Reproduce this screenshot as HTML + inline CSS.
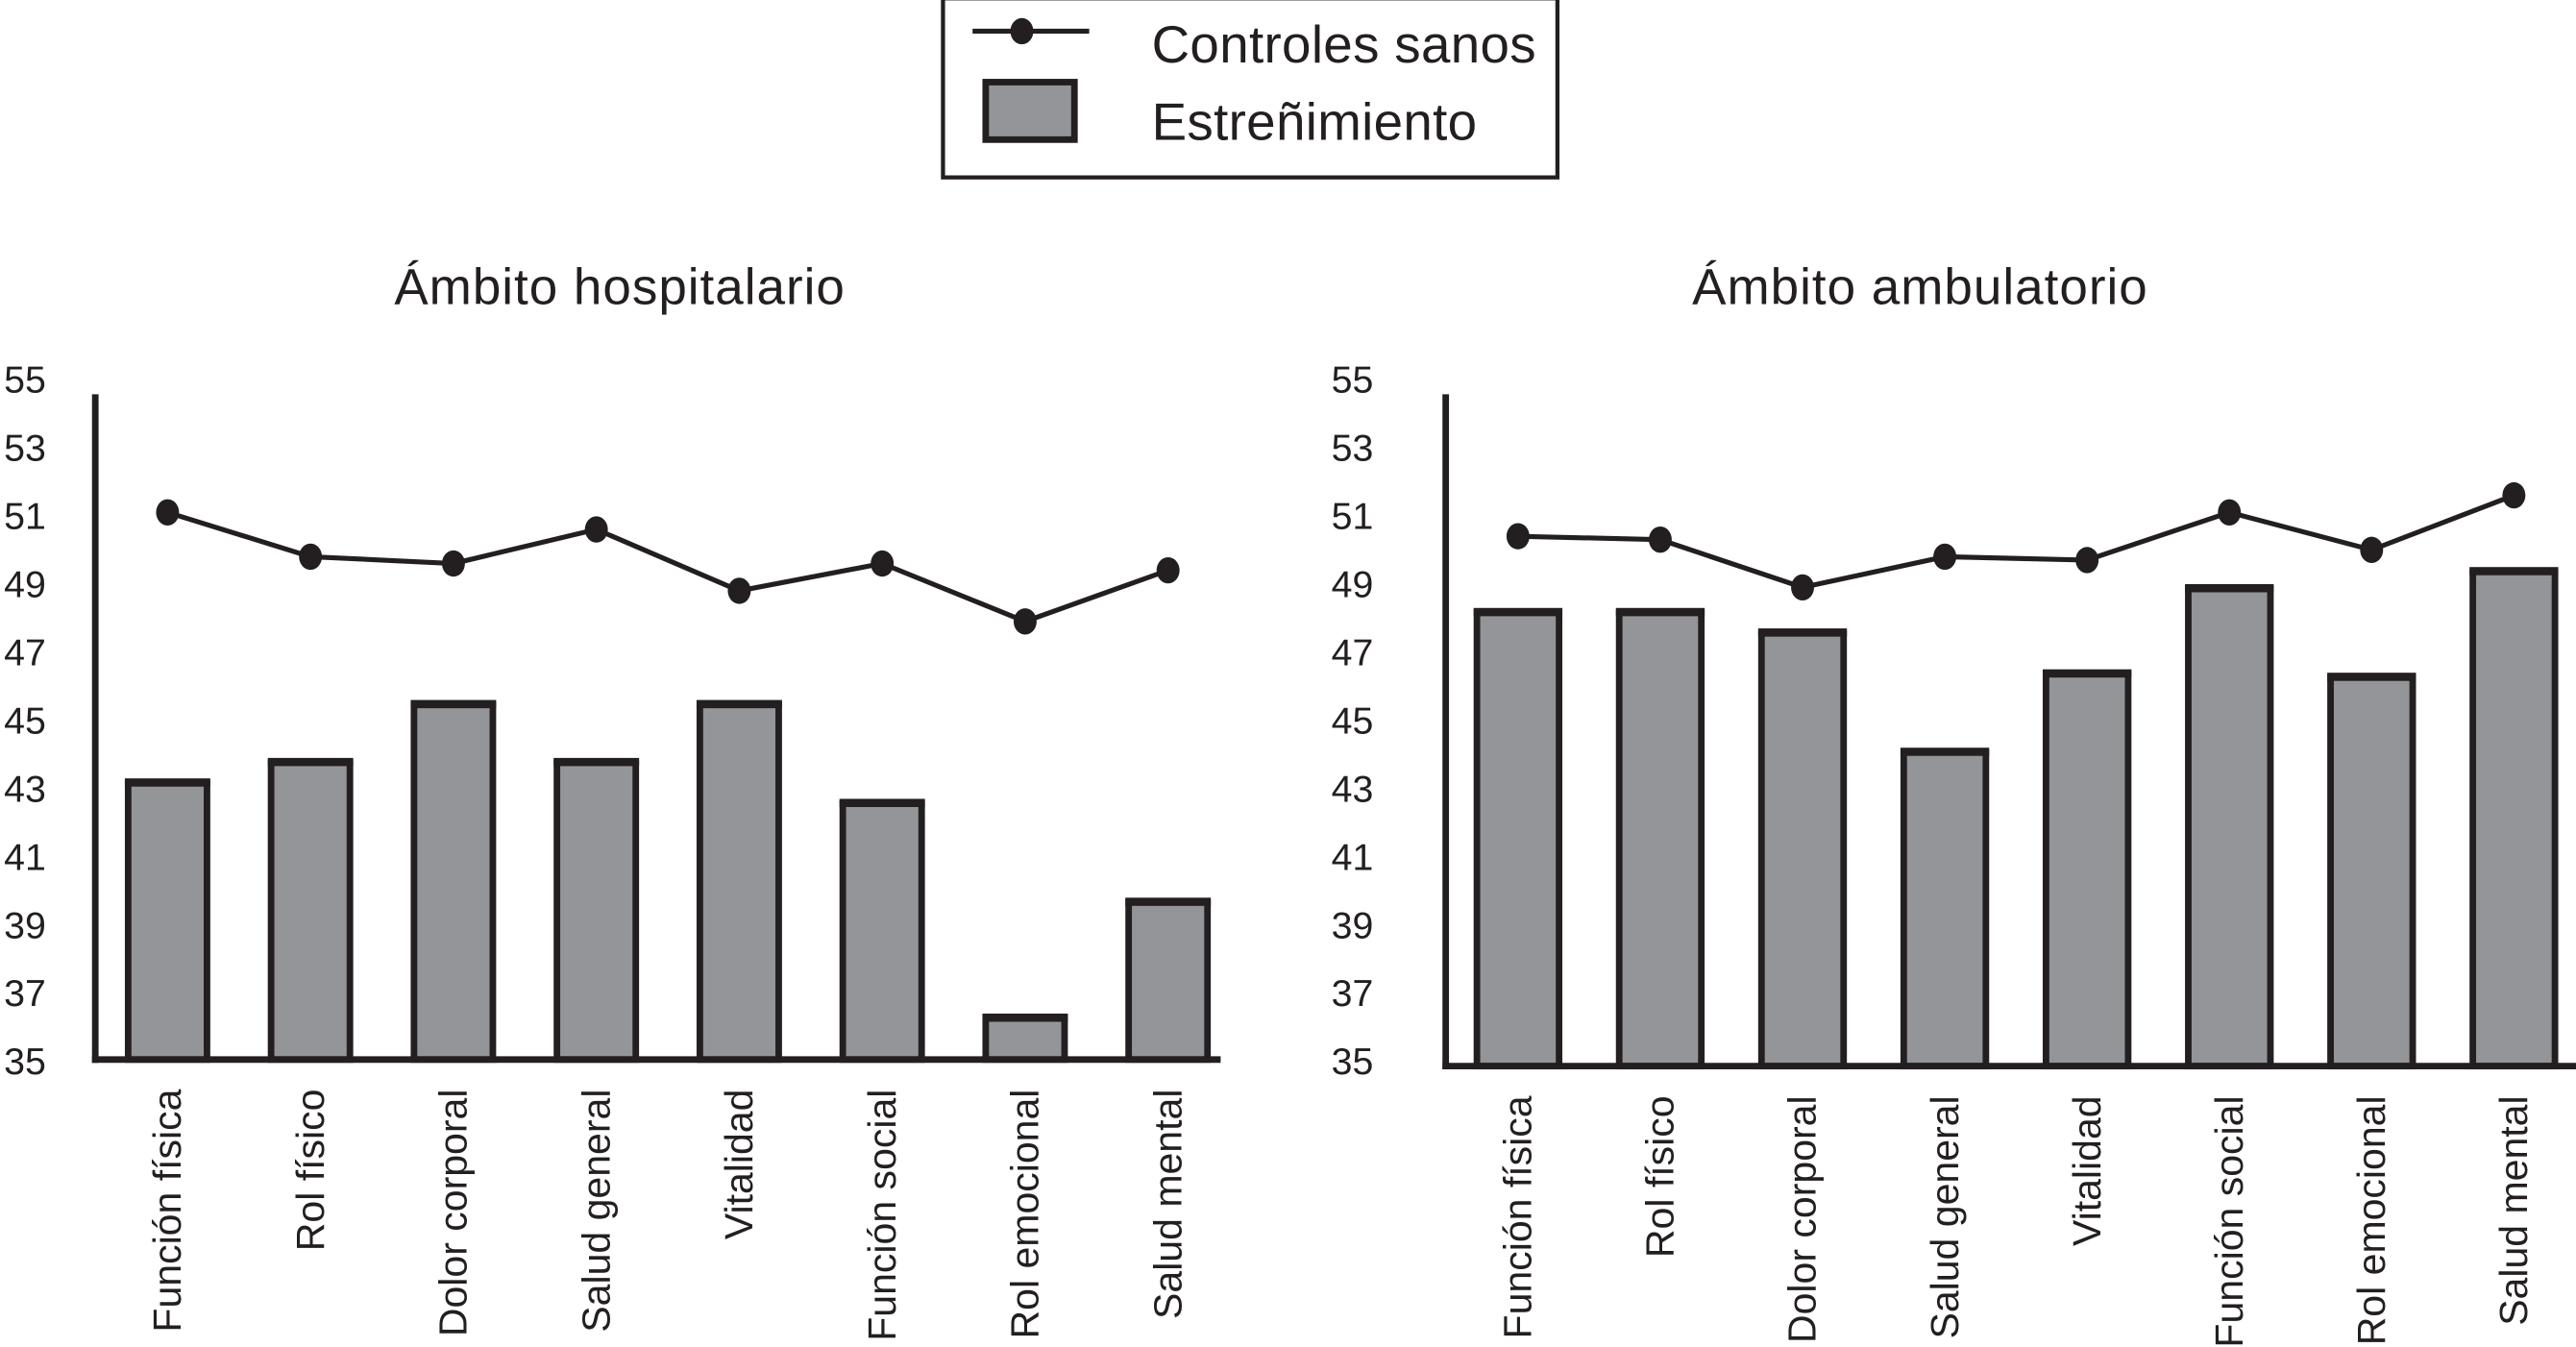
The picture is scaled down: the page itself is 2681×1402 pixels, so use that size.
<!DOCTYPE html>
<html><head><meta charset="utf-8"><style>
html,body{margin:0;padding:0;background:#fff;}
svg{display:block;}
text{font-family:"Liberation Sans",sans-serif;fill:#231f20;}
</style></head><body>
<svg id="chart" width="2681" height="1402" viewBox="0 0 1568 820" preserveAspectRatio="none" xmlns="http://www.w3.org/2000/svg">
<g>
<rect x="574" y="-1" width="374" height="109" fill="#fff" stroke="#231f20" stroke-width="2.5"/>
<line x1="592" y1="19" x2="663" y2="19" stroke="#231f20" stroke-width="3"/>
<ellipse cx="622" cy="19" rx="7" ry="8" fill="#231f20"/>
<text x="701" y="38" font-size="32" textLength="234">Controles sanos</text>
<rect x="600" y="50" width="54" height="35" fill="#939598" stroke="#231f20" stroke-width="4"/>
<text x="701" y="85" font-size="32" textLength="198">Estreñimiento</text>
</g>
<text x="240" y="185" font-size="31" textLength="274">Ámbito hospitalario</text>
<text x="1030" y="185" font-size="31" textLength="277">Ámbito ambulatorio</text>
<g id="panels"></g>
</svg>
<script>
const categories = ["Función física","Rol físico","Dolor corporal","Salud general","Vitalidad","Función social","Rol emocional","Salud mental"];
const yTicks = [35,37,39,41,43,45,47,49,51,53,55];
const hospBars = [43.2,43.8,45.5,43.8,45.5,42.6,36.3,39.7];
const hospLine = [51.1,49.8,49.6,50.6,48.8,49.6,47.9,49.4];
const ambBars = [48.2,48.2,47.6,44.1,46.4,48.9,46.3,49.4];
const ambLine = [50.4,50.3,48.9,49.8,49.7,51.1,50.0,51.6];

const NS = "http://www.w3.org/2000/svg";
const root = document.getElementById('panels');
function mk(tag, attrs, parent){const e=document.createElementNS(NS,tag);for(const k in attrs)e.setAttribute(k,attrs[k]);parent.appendChild(e);return e;}
function y(v){return 646-(v-35)*20.75;}

function panel(name, axisX, labelX, firstX, step, barW, baseY, endX, bars, line){
  const g = mk('g',{},root);
  
  
  yTicks.forEach(t=>{
    const tx = mk('text',{x:labelX,y:y(t)+8,'font-size':23,'text-anchor':'end'},g);
    tx.textContent = t;
    
    
  });
  const cx = i => firstX + i*step;
  bars.forEach((v,i)=>{
    const top=y(v);
    const r = mk('rect',{x:cx(i)-barW/2,y:top,width:barW,height:baseY-top,fill:'#939598',stroke:'#231f20','stroke-width':4},g);
    
    
    const tl = mk('line',{x1:cx(i)-barW/2-2,x2:cx(i)+barW/2+2,y1:top+1,y2:top+1,stroke:'#231f20','stroke-width':4},g);
    
    
  });
  const pts = line.map((v,i)=>cx(i)+','+y(v)).join(' ');
  const pl = mk('polyline',{points:pts,fill:'none',stroke:'#231f20','stroke-width':3},g);
  
  
  line.forEach((v,i)=>{
    const d = mk('ellipse',{cx:cx(i),cy:y(v),rx:7,ry:8,fill:'#231f20'},g);
    
    
  });
  const ax = mk('line',{x1:axisX,x2:axisX,y1:240,y2:baseY+2,stroke:'#231f20','stroke-width':4},g);
  
  
  const bx = mk('line',{x1:axisX-2,x2:endX,y1:baseY,y2:baseY,stroke:'#231f20','stroke-width':4},g);
  
  
  categories.forEach((c,i)=>{
    const tx = mk('text',{x:0,y:0,'font-size':24,'text-anchor':'end',transform:'translate('+(cx(i)+8)+','+(baseY+18)+') rotate(-90)'},g);
    tx.textContent = c;
    
    
  });
}
panel('hospitalario', 58, 28, 102, 87, 48, 645, 743, hospBars, hospLine);
panel('ambulatorio', 880, 836, 924, 86.6, 50, 649, 1568, ambBars, ambLine);
</script>
</body></html>
